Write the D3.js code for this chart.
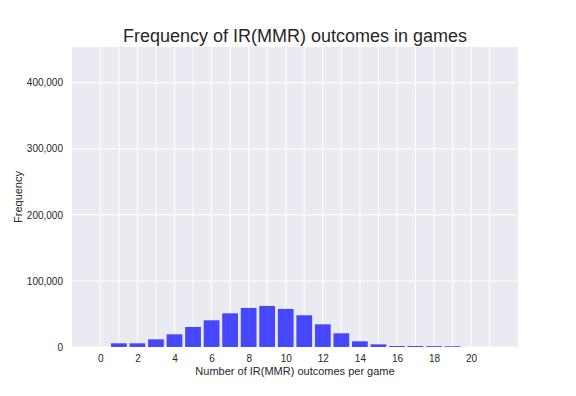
<!DOCTYPE html>
<html>
<head>
<meta charset="utf-8">
<script src="https://cdn.jsdelivr.net/npm/d3@7"></script>
<style>
  body { margin: 0; background: #fff; }
  text { font-family: "Liberation Sans", Arial, sans-serif; fill: #262626; }
</style>
</head>
<body>
<div id="chart"></div>
<script>
// outcomes per game -> number of games
var outcomes = [0, 1, 2, 3, 4, 5, 6, 7, 8, 9, 10, 11, 12, 13, 14, 15, 16, 17, 18, 19, 20, 21];
var frequency = [0, 5600, 5600, 11600, 19200, 30300, 40400, 51000, 59100, 62100, 57600, 48000,
                 34300, 20700, 8600, 4000, 1500, 1500, 1300, 1100, 0, 0];
var xTickLabels = [0, 2, 4, 6, 8, 10, 12, 14, 16, 18, 20];
var yTicks = [0, 100000, 200000, 300000, 400000];

var width = 576, height = 396,
    margin = {left: 72, right: 58, top: 47, bottom: 49},
    w = width - margin.left - margin.right,
    h = height - margin.top - margin.bottom;

var svg = d3.select('#chart').append('svg')
    .attr('width', width)
    .attr('height', height);

var chart = svg.append('g')
    .attr('transform', 'translate(' + margin.left + ',' + margin.top + ')');

var x = d3.scaleLinear().domain([-1.53, 22.53]).range([0, w]),
    y = d3.scaleLinear().domain([0, 454000]).range([h, 0]);

chart.append('rect')
    .attr('width', w)
    .attr('height', h)
    .attr('fill', '#EAEAF2');

// grid
chart.append('g').selectAll('line')
    .data(outcomes)
    .enter().append('line')
    .attr('x1', function(d) { return x(d); })
    .attr('x2', function(d) { return x(d); })
    .attr('y1', 0).attr('y2', h)
    .attr('stroke', '#fff')
    .attr('stroke-width', 1);

chart.append('g').selectAll('line')
    .data(yTicks)
    .enter().append('line')
    .attr('x1', 0).attr('x2', w)
    .attr('y1', function(d) { return y(d); })
    .attr('y2', function(d) { return y(d); })
    .attr('stroke', '#fff')
    .attr('stroke-width', 1);

// bars
var bw = 0.85;
chart.append('g').selectAll('rect')
    .data(frequency)
    .enter().append('rect')
    .attr('x', function(d, i) { return x(outcomes[i] - bw / 2); })
    .attr('width', x(bw) - x(0))
    .attr('y', function(d) { return y(d); })
    .attr('height', function(d) { return h - y(d); })
    .attr('fill', 'blue')
    .attr('fill-opacity', 0.7);

// axes
var xAxis = d3.axisBottom(x).tickValues(xTickLabels).tickSize(0).tickPadding(8).tickFormat(d3.format('d'));
var yAxis = d3.axisLeft(y).tickValues(yTicks).tickSize(0).tickPadding(9).tickFormat(d3.format(','));

var xx = chart.append('g').attr('transform', 'translate(0,' + h + ')').call(xAxis);
var yy = chart.append('g').call(yAxis);
[xx, yy].forEach(function(a) {
    a.select('.domain').remove();
    a.selectAll('text').style('font-size', '10px').attr('fill', '#262626');
});

svg.append('text')
    .attr('x', margin.left + w / 2)
    .attr('y', 42)
    .attr('text-anchor', 'middle')
    .style('font-size', '18px')
    .text('Frequency of IR(MMR) outcomes in games');

svg.append('text')
    .attr('x', margin.left + w / 2)
    .attr('y', 375)
    .attr('text-anchor', 'middle')
    .style('font-size', '11px')
    .text('Number of IR(MMR) outcomes per game');

svg.append('text')
    .attr('transform', 'translate(22,' + (margin.top + h / 2) + ') rotate(-90)')
    .attr('text-anchor', 'middle')
    .style('font-size', '11px')
    .text('Frequency');
</script>
</body>
</html>
